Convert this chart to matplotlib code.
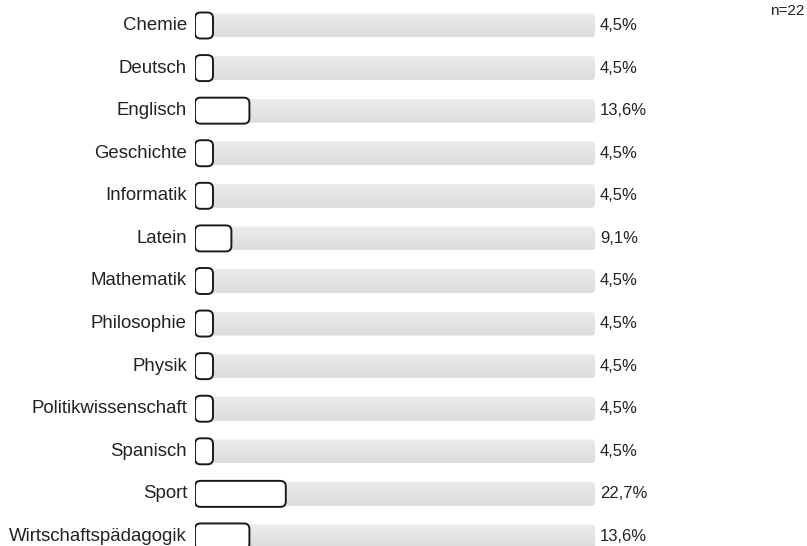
import matplotlib
matplotlib.use("Agg")
import matplotlib.pyplot as plt
import numpy as np
from matplotlib.patches import FancyBboxPatch
from matplotlib.colors import LinearSegmentedColormap

categories = ["Chemie", "Deutsch", "Englisch", "Geschichte", "Informatik", "Latein",
              "Mathematik", "Philosophie", "Physik", "Politikwissenschaft", "Spanisch",
              "Sport", "Wirtschaftspädagogik"]
values = [4.5, 4.5, 13.6, 4.5, 4.5, 9.1, 4.5, 4.5, 4.5, 4.5, 4.5, 22.7, 13.6]
value_labels = ["4,5%", "4,5%", "13,6%", "4,5%", "4,5%", "9,1%", "4,5%", "4,5%",
                "4,5%", "4,5%", "4,5%", "22,7%", "13,6%"]
n_label = "n=22"

plt.rcParams['font.family'] = ['Liberation Sans', 'DejaVu Sans']

W, H = 807, 546
fig = plt.figure(figsize=(W / 100, H / 100), dpi=100)
ax_left_px, ax_right_px = 195, 595
ax = fig.add_axes([ax_left_px / W, 0, (ax_right_px - ax_left_px) / W, 1])
ax.set_axis_off()

row_top_px, row_step_px = 25.5, 42.58
ylim = ((H - row_top_px) / row_step_px, -row_top_px / row_step_px)

px_per_x = (ax_right_px - ax_left_px) / 100.0
px_per_y = row_step_px
aspect = px_per_x / px_per_y

track_h = 24 / row_step_px
bar_h = 26 / row_step_px

grad = np.linspace(0, 1, 64).reshape(-1, 1)
cmap = LinearSegmentedColormap.from_list("g", ["#ececec", "#dcdcdc"])

for i, (v, lab, vl) in enumerate(zip(values, categories, value_labels)):
    track = FancyBboxPatch((0, i - track_h / 2), 100, track_h,
                           boxstyle="round,pad=0,rounding_size=%f" % (4 / px_per_x),
                           mutation_aspect=aspect, facecolor="none", edgecolor="none")
    ax.add_patch(track)
    im = ax.imshow(grad, extent=(0, 100, i + track_h / 2, i - track_h / 2),
                   cmap=cmap, aspect='auto', zorder=1, interpolation='bilinear')
    im.set_clip_path(track)
    bar = FancyBboxPatch((0, i - bar_h / 2), v, bar_h,
                         boxstyle="round,pad=0,rounding_size=%f" % (5.5 / px_per_x),
                         mutation_aspect=aspect, facecolor="white",
                         edgecolor="#1a1a1a", linewidth=1.4, zorder=3)
    ax.add_patch(bar)
    ax.text(-8 / px_per_x, i, lab, ha="right", va="center", fontsize=13.4,
            color="#222222")
    ax.text(100 + 5 / px_per_x, i, vl, ha="left", va="center", fontsize=12,
            color="#222222")

ax.set_xlim(0, 100)
ax.set_ylim(*ylim)

fig.text(804 / W, 1 - 11 / H, n_label, ha="right", va="center", fontsize=11,
         color="#222222")

fig.savefig("out.png", dpi=100)
